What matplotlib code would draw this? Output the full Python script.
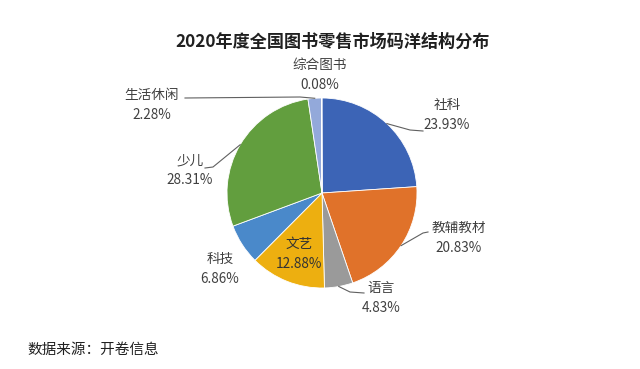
import numpy as np
import matplotlib
matplotlib.use("Agg")
import matplotlib.pyplot as plt

plt.rcParams['font.family'] = ['Noto Sans CJK SC', 'DejaVu Sans']

title = "2020年度全国图书零售市场码洋结构分布"
source = "数据来源：开卷信息"
categories = ["社科", "教辅教材", "语言", "文艺", "科技", "少儿", "生活休闲", "综合图书"]
shares = [23.93, 20.83, 4.83, 12.88, 6.86, 28.31, 2.28, 0.08]
colors = ["#3c64b6", "#e0722a", "#9a9a9a", "#edaf10", "#4a89ca", "#629e3e", "#93a9da", "#c55a11"]

W, H = 640, 369
cx, cy, r = 322, H - 193, 95

# label anchor (pixel coords, y from top) and leader polyline end points
label_pos = {
    "社科": (447, 115),
    "教辅教材": (459, 238),
    "语言": (381, 298),
    "文艺": (299, 254),
    "科技": (220, 269),
    "少儿": (190, 170),
    "生活休闲": (152, 105),
    "综合图书": (320, 75),
}
leaders = {
    "社科": [(410, 130), (423, 131)],
    "教辅教材": [(423, 233), (428, 232)],
    "语言": [(350, 292), (364, 293)],
    "少儿": [(213, 167), (205, 168)],
    "生活休闲": [(300, 97), (185, 98)],
}

fig = plt.figure(figsize=(W / 100, H / 100), dpi=100)
ax = fig.add_axes([0, 0, 1, 1])

wedges, _ = ax.pie(shares, colors=colors, startangle=90, counterclock=False,
                   center=(cx, cy), radius=r,
                   wedgeprops=dict(edgecolor='white', linewidth=0.6))
ax.set_xlim(0, W)
ax.set_ylim(0, H)
ax.set_aspect('equal')
ax.axis('off')

tc = '#404040'
for w, name, v in zip(wedges, categories, shares):
    mid = np.deg2rad((w.theta1 + w.theta2) / 2)
    ex, ey = cx + r * np.cos(mid), cy + r * np.sin(mid)
    lx, ly = label_pos[name]
    ax.text(lx, H - ly, f"{name}\n{v:.2f}%", ha='center', va='center',
            fontsize=9.8, color=tc if name != "文艺" else '#333333',
            linespacing=1.5)
    if name in leaders:
        pts = [(ex, ey)] + [(px, H - py) for px, py in leaders[name]]
        xs, ys = zip(*pts)
        ax.plot(xs, ys, color='#606060', lw=0.8)

fig.text(333 / W, 1 - 42 / H, title, ha='center', va='center',
         fontsize=12.3, fontweight='bold', color='#202020')
fig.text(27 / W, 1 - 350 / H, source, ha='left', va='center',
         fontsize=10.5, color='#202020')

fig.savefig("out.png", dpi=100, facecolor='white')
